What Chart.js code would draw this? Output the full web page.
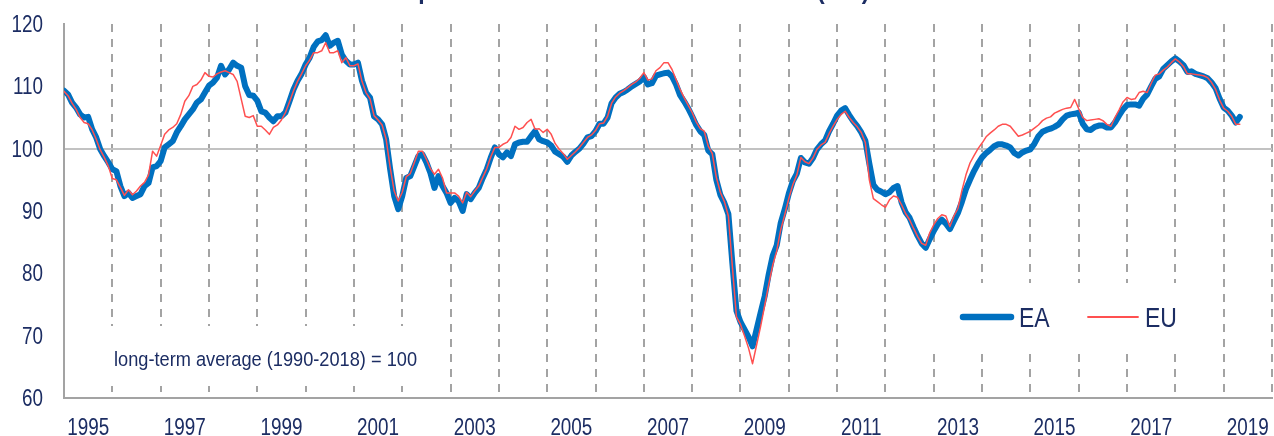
<!DOCTYPE html>
<html>
<head>
<meta charset="utf-8">
<title>Economic Sentiment Indicator</title>
<script src="https://cdn.jsdelivr.net/npm/chart.js@4.4.1/dist/chart.umd.min.js"></script>
<style>
    html, body { margin: 0; padding: 0; background: #ffffff; }
    #wrap { width: 1274px; height: 436px; position: relative; }
</style>
</head>
<body>
<div id="wrap"><canvas id="esiChart" width="1274" height="436"></canvas></div>
<script>
(function () {
    'use strict';

    // monthly values, first point = January 1995
    const eaValues = [
        109.3, 108.7, 107.4, 106.6, 105.5, 105.0, 105.1, 103.1, 101.8, 99.9, 98.8, 97.8,
        96.7, 96.4, 94.0, 92.4, 92.9, 92.1, 92.4, 92.7, 94.0, 94.5, 97.0, 97.2,
        98.0, 100.2, 100.7, 101.2, 102.6, 103.6, 104.7, 105.5, 106.3, 107.4, 107.9, 109.0,
        110.1, 110.6, 111.4, 113.3, 111.9, 112.7, 113.8, 113.3, 113.0, 110.0, 108.6, 108.5,
        107.7, 106.0, 105.8, 105.0, 104.4, 105.2, 105.2, 105.8, 107.6, 109.5, 110.9, 112.0,
        113.5, 114.6, 116.3, 117.2, 117.4, 118.2, 116.5, 117.0, 117.3, 115.1, 114.1, 113.5,
        113.5, 113.8, 110.9, 109.0, 108.2, 105.2, 104.7, 103.9, 101.5, 96.7, 92.4, 90.3,
        92.4, 95.3, 95.6, 97.2, 98.8, 99.1, 97.8, 96.1, 93.7, 95.6, 94.0, 92.9,
        91.3, 92.1, 91.6, 90.0, 92.7, 91.9, 92.9, 93.7, 95.3, 96.7, 98.6, 100.2,
        99.1, 98.6, 99.4, 98.8, 100.7, 101.0, 101.1, 101.1, 102.0, 102.8, 101.5, 101.2,
        101.0, 100.5, 99.5, 99.1, 98.7, 97.9, 98.9, 99.5, 100.0, 100.8, 101.8, 102.0,
        102.8, 104.0, 104.0, 105.0, 107.3, 108.2, 108.8, 109.1, 109.5, 110.0, 110.4, 110.8,
        111.5, 110.3, 110.5, 111.7, 111.9, 112.1, 112.2, 111.6, 110.3, 108.6, 107.6, 106.5,
        105.2, 103.8, 102.8, 102.2, 99.7, 99.1, 95.0, 92.6, 91.3, 89.5, 81.5, 74.0,
        72.2, 71.0, 69.8, 68.3, 71.0, 73.7, 76.3, 79.8, 82.8, 84.5, 88.1, 90.3,
        92.8, 94.8, 96.0, 98.5, 97.8, 97.6, 98.5, 99.9, 100.7, 101.3, 102.8, 104.0,
        105.3, 106.1, 106.5, 105.4, 104.4, 103.6, 102.6, 101.3, 97.6, 94.2, 93.4, 93.1,
        92.7, 93.0, 93.7, 94.0, 91.4, 89.8, 88.9, 87.4, 86.0, 84.8, 84.1, 85.5,
        86.8, 87.9, 88.6, 88.0, 87.1, 88.4, 89.7, 91.5, 93.5, 95.0, 96.4, 97.6,
        98.6, 99.3, 99.8, 100.4, 100.7, 100.7, 100.5, 100.2, 99.3, 98.9, 99.4, 99.7,
        99.9, 100.8, 102.0, 102.7, 103.0, 103.2, 103.5, 103.9, 104.7, 105.3, 105.5, 105.6,
        105.8, 104.0, 103.1, 103.0, 103.5, 103.7, 103.7, 103.4, 103.4, 104.2, 105.3, 106.3,
        107.0, 107.1, 107.1, 106.9, 108.0, 108.7, 110.0, 111.2, 111.6, 112.8, 113.4, 114.0,
        114.5, 114.0, 113.4, 112.3, 112.4, 112.0, 111.8, 111.6, 111.3, 110.6, 109.7, 108.0,
        106.6, 106.1, 105.3, 104.2, 105.1
    ];
    const euValues = [
        109.2, 108.5, 107.3, 106.3, 105.0, 104.2, 104.0, 103.0, 101.5, 99.8, 98.6, 97.2,
        95.2, 95.0, 93.8, 92.5, 93.4, 92.6, 93.2, 94.0, 94.6, 95.8, 99.6, 98.8,
        100.5, 102.3, 103.0, 103.4, 104.0, 105.5, 107.6, 108.5, 110.0, 110.3, 111.0, 112.2,
        111.6, 111.5, 112.0, 112.3, 112.5, 112.2, 111.9, 110.8, 108.0, 105.2, 105.0, 105.3,
        103.6, 103.6, 103.0, 102.3, 103.4, 103.8, 104.6, 105.8, 107.5, 109.3, 110.8, 112.0,
        113.3, 114.2, 115.4, 115.4, 115.7, 117.0, 115.4, 115.4, 115.7, 113.8, 114.6, 113.3,
        113.3, 113.6, 110.8, 109.0, 108.0, 105.3, 104.6, 103.8, 101.5, 97.0, 93.2, 91.6,
        93.0, 95.5, 96.0, 97.8, 99.6, 99.6, 98.3, 96.8, 95.9, 96.7, 95.3, 92.9,
        92.9, 92.9, 92.4, 91.3, 93.0, 92.3, 93.2, 94.0, 95.4, 96.8, 98.7, 100.2,
        100.2, 100.7, 101.0, 101.8, 103.6, 103.1, 103.4, 104.2, 104.7, 103.1, 103.2, 102.6,
        103.1, 102.3, 100.8, 99.9, 99.2, 98.3, 98.9, 99.5, 100.2, 101.0, 101.8, 102.2,
        102.9, 104.0, 104.1, 105.2, 107.3, 108.3, 108.9, 109.3, 109.8, 110.3, 110.7, 111.3,
        112.2, 111.0, 111.2, 112.5, 113.0, 113.8, 113.8, 112.7, 111.1, 109.5, 108.2, 107.0,
        105.8, 104.3, 103.2, 102.8, 100.4, 99.2, 95.4, 93.0, 91.5, 89.2, 81.0, 73.0,
        71.8, 70.0, 68.0, 65.5, 68.5, 71.5, 74.8, 78.2, 81.3, 83.6, 87.0, 89.4,
        92.0, 94.2, 95.8, 98.6, 97.9, 97.6, 98.5, 99.9, 100.6, 101.0, 102.4, 103.6,
        104.7, 105.5, 106.0, 105.0, 104.2, 103.5, 102.6, 101.0, 95.0, 92.0, 91.5, 91.0,
        90.6, 91.8, 92.4, 92.2, 91.0, 89.6, 88.6, 87.2, 85.9, 84.8, 84.5, 86.5,
        87.8, 88.8, 89.4, 89.2, 87.5, 89.2, 90.4, 93.3, 95.8, 97.7, 98.9, 100.0,
        100.9, 101.9, 102.5, 103.0, 103.6, 103.9, 103.9, 103.6, 102.8, 102.0, 102.2, 102.5,
        102.8, 103.3, 103.8, 104.5, 104.9, 105.1, 105.7, 106.0, 106.3, 106.5, 106.6, 107.9,
        106.4, 105.0, 104.5, 104.6, 104.7, 104.8, 104.5, 103.9, 103.6, 105.0, 106.2, 107.5,
        108.2, 107.9, 108.0, 109.0, 109.2, 109.0, 110.5, 111.8, 112.0, 112.6, 113.1, 113.8,
        114.4, 113.9, 113.2, 112.0, 112.0, 111.9, 111.8, 111.7, 111.4, 110.6, 109.5, 107.8,
        106.5, 106.0, 105.2, 103.9, 103.9
    ];
    const yearLabels = ['1995', '1997', '1999', '2001', '2003', '2005', '2007',
                        '2009', '2011', '2013', '2015', '2017', '2019'];
    const yTicks = [60, 70, 80, 90, 100, 110, 120];
    const seriesNames = ['EA', 'EU'];

    const titleText = 'Graph 1: Economic Sentiment Indicator (ESI)';
    const noteText = 'long-term average (1990-2018) = 100';

    const NAVY = '#1c2d63';
    const BLUE = '#0070c0';
    const RED = '#ff5050';
    const GREY = '#a3a3a3';
    const FONT = '"Liberation Sans", Arial, sans-serif';
    const SQUEEZE = 0.82;   // narrow look of the original typeface

    const lastMonth = (yearLabels.length * 2 - 1) * 12;

    function toPoints(values) {
        return values.map(function (v, i) { return { x: i, y: v }; });
    }

    // draws text squeezed horizontally; width forces an exact width when given
    function narrowText(ctx, text, x, y, size, align, weight, width, squeeze) {
        ctx.save();
        ctx.font = (weight || 'normal') + ' ' + size + 'px ' + FONT;
        const sx = width ? width / ctx.measureText(text).width : (squeeze || SQUEEZE);
        ctx.translate(x, y);
        ctx.scale(sx, 1);
        ctx.textAlign = align;
        ctx.textBaseline = 'alphabetic';
        ctx.fillText(text, 0, 0);
        ctx.restore();
    }

    const textPlugin = {
        id: 'esiText',
        afterDraw: function (chart) {
            const ctx = chart.ctx;
            const xs = chart.scales.x;
            const ys = chart.scales.y;
            ctx.save();
            ctx.fillStyle = NAVY;

            // axis labels
            yTicks.forEach(function (v) {
                narrowText(ctx, String(v), 43, ys.getPixelForValue(v) + 8, 23, 'right');
            });
            yearLabels.forEach(function (label, i) {
                narrowText(ctx, label, xs.getPixelForValue(6 + i * 24), 435, 23, 'center');
            });

            // title, mostly cut off by the top edge
            narrowText(ctx, titleText, 624, -1.5, 23, 'center', 'bold', null, 1);

            // note box
            ctx.fillStyle = '#ffffff';
            ctx.fillRect(96, 326, 336, 60);
            ctx.fillStyle = NAVY;
            narrowText(ctx, noteText, 114, 366, 20.5, 'left', 'normal', 303);

            // legend box
            ctx.fillStyle = '#ffffff';
            ctx.fillRect(900, 283, 300, 68);
            ctx.lineCap = 'round';
            ctx.strokeStyle = BLUE;
            ctx.lineWidth = 6.5;
            ctx.beginPath();
            ctx.moveTo(963, 317);
            ctx.lineTo(1011, 317);
            ctx.stroke();
            ctx.strokeStyle = RED;
            ctx.lineWidth = 1.8;
            ctx.beginPath();
            ctx.moveTo(1088, 317);
            ctx.lineTo(1138, 317);
            ctx.stroke();
            ctx.fillStyle = NAVY;
            narrowText(ctx, seriesNames[0], 1019, 327, 28, 'left');
            narrowText(ctx, seriesNames[1], 1145, 327, 28, 'left');

            ctx.restore();
        }
    };

    new Chart(document.getElementById('esiChart'), {
        type: 'line',
        data: {
            datasets: [{
                label: seriesNames[0],
                data: toPoints(eaValues),
                borderColor: BLUE,
                borderWidth: 6,
                order: 2
            }, {
                label: seriesNames[1],
                data: toPoints(euValues),
                borderColor: RED,
                borderWidth: 1.5,
                order: 1
            }]
        },
        options: {
            responsive: false,
            animation: false,
            devicePixelRatio: 1,
            layout: { padding: { top: 24, right: 2, left: 0, bottom: 0 } },
            elements: {
                point: { radius: 0, hoverRadius: 0 },
                line: { tension: 0, borderJoinStyle: 'round', borderCapStyle: 'round', fill: false }
            },
            plugins: {
                legend: { display: false },
                tooltip: { enabled: false }
            },
            scales: {
                x: {
                    type: 'linear',
                    min: 0,
                    max: lastMonth,
                    afterBuildTicks: function (scale) {
                        const ticks = [];
                        for (let v = 0; v <= lastMonth; v += 12) ticks.push({ value: v });
                        scale.ticks = ticks;
                    },
                    afterFit: function (scale) { scale.height = 38; },
                    ticks: { display: false },
                    grid: {
                        drawTicks: false,
                        lineWidth: 2,
                        color: function (c) {
                            const v = c.tick ? c.tick.value : -1;
                            return v > 0 ? GREY : 'rgba(0,0,0,0)';
                        }
                    },
                    border: { display: true, color: GREY, width: 2, dash: [8, 7] }
                },
                y: {
                    min: 60,
                    max: 120,
                    afterBuildTicks: function (scale) {
                        scale.ticks = yTicks.map(function (v) { return { value: v }; });
                    },
                    afterFit: function (scale) { scale.width = 64; },
                    ticks: { display: false },
                    grid: {
                        drawTicks: false,
                        lineWidth: 2,
                        color: function (c) {
                            return (c.tick && c.tick.value === 100) ? '#c2c2c2' : 'rgba(0,0,0,0)';
                        }
                    },
                    border: { display: true, color: GREY, width: 2 }
                }
            }
        },
        plugins: [textPlugin]
    });
})();
</script>
</body>
</html>
